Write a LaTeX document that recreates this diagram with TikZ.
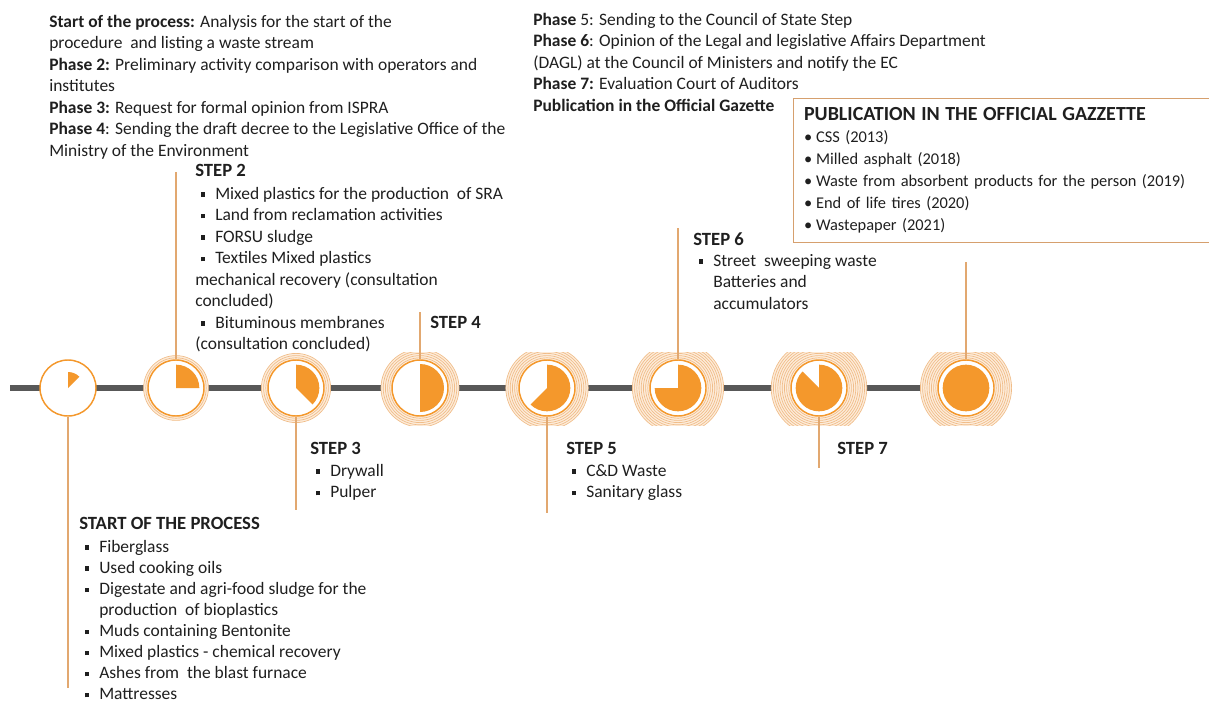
\documentclass[tikz,border=0pt]{standalone}
\usepackage{fontspec}
\setmainfont{Carlito}
\usetikzlibrary{positioning,backgrounds}

\definecolor{pieorange}{RGB}{244,152,44}
\definecolor{haloline}{RGB}{240,188,136}
\definecolor{halofill}{RGB}{253,236,218}
\definecolor{leadline}{RGB}{226,168,112}
\definecolor{boxline}{RGB}{214,160,110}
\definecolor{trackgray}{RGB}{88,88,88}

\newcommand{\sqitem}{\makebox[15pt][l]{\hspace{4pt}\raisebox{0.3ex}{\rule{3.4pt}{3.4pt}}}}
\newcommand{\dotitem}{\makebox[9pt][l]{\textbullet}}

\tikzset{
	every node/.style={inner sep=0pt, text=black!88},
	body/.style={font=\fontsize{13.1}{16.1}\selectfont, align=left, anchor=north west},
	head/.style={font=\bfseries\fontsize{14}{16}\selectfont, anchor=north west},
	stage/.style={circle, draw=pieorange, line width=1.1pt, fill=white, minimum size=42pt},
	lead/.style={draw=leadline, line width=0.8pt},
	track/.style={draw=trackgray, line width=5.2pt},
}

\begin{document}
\begin{tikzpicture}[x=0.75pt, y=-0.75pt]
	\useasboundingbox (0,0) rectangle (1209,706);

	% stages with their halos
	\foreach \i/\x/\f/\h/\rad in {1/68/45/0/12, 2/176/90/2/17.5, 3/296/135/3/17.5, 4/420/180/5/18, 5/547/225/6/17.5, 6/678/270/8/17.5, 7/819/315/9/17.5, 8/966/360/8/17.5} {
		\ifnum\h>0
			\begin{scope}
				\clip (\x-60,352) rectangle (\x+60,425);
				\fill[halofill] (\x,388) circle[radius={(28+2.2*\h)*0.75pt}];
				\foreach \k in {1,...,\h}
					\draw[haloline, line width=0.5pt] (\x,388) circle[radius={(28+2.2*\k)*0.75pt}];
			\end{scope}
		\fi
		\node[stage] (c\i) at (\x,388) {};
		\fill[pieorange] (c\i.center) -- ++(90:\rad pt) arc[start angle=90, end angle=90-\f, radius=\rad pt] -- cycle;
	}

	\coordinate (t0) at (10,388);
	\begin{scope}[on background layer]
		\draw[track] (t0) -- (c8.center);
	\end{scope}

	% leads to the labels
	\foreach \i/\x/\y in {1/68/688, 2/176/172, 3/296/510, 4/420/312, 5/547/513, 6/678/228, 7/819/468, 8/966/262} {
		\coordinate (e\i) at (\x,\y);
		\draw[lead] (c\i) -- (e\i);
	}

	% phases
	\node[body] (phasesA) at (49,15) {\textbf{Start of the process:} Analysis for the start of the\\
		procedure\ \ and listing a waste stream\\
		\textbf{Phase 2:} Preliminary activity comparison with operators and\\
		institutes\\
		\textbf{Phase 3:} Request for formal opinion from ISPRA\\
		\textbf{Phase 4}: Sending the draft decree to the Legislative Office of the\\
		Ministry of the Environment};
	\node[body] (phasesB) at (533,13) {\textbf{Phase} 5: Sending to the Council of State Step\\
		\textbf{Phase 6}: Opinion of the Legal and legislative Affairs Department\\
		(DAGL) at the Council of Ministers and notify the EC\\
		\textbf{Phase 7:} Evaluation Court of Auditors\\
		\textbf{Publication in the Official Gazette}};

	% gazette box
	\node[body, draw=boxline, line width=0.6pt, inner xsep=8pt, inner ysep=7pt, text width=298pt, font=\fontsize{12.3}{16.5}\selectfont] (gazette) at (793,98)
		{{\bfseries\fontsize{15}{16}\selectfont PUBLICATION IN THE OFFICIAL GAZZETTE}\\
		\dotitem CSS (2013)\\
		\dotitem Milled asphalt (2018)\\
		\dotitem Waste from absorbent products for the person (2019)\\
		\dotitem End of life tires (2020)\\
		\dotitem Wastepaper (2021)};

	% steps
	\node[head] (start) at (79,517) {START OF THE PROCESS};
	\node[body, font=\fontsize{13.1}{15.8}\selectfont] (startL) at (79,540) {\sqitem Fiberglass\\
		\sqitem Used cooking oils\\
		\sqitem Digestate and agri-food sludge for the\\
		\hspace*{15pt}production\ \ of bioplastics\\
		\sqitem Muds containing Bentonite\\
		\sqitem Mixed plastics - chemical recovery\\
		\sqitem Ashes from\ \ the blast furnace\\
		\sqitem Mattresses};

	\node[head] (step2) at (195,164) {STEP 2};
	\node[body] (step2L) at (195,187) {\sqitem Mixed plastics for the production\ \ of SRA\\
		\sqitem Land from reclamation activities\\
		\sqitem FORSU sludge\\
		\sqitem Textiles Mixed plastics\\
		mechanical recovery (consultation\\
		concluded)\\
		\sqitem Bituminous membranes\\
		(consultation concluded)};

	\node[head] (step3) at (310,442) {STEP 3};
	\node[body] (step3L) at (310,464) {\sqitem Drywall\\
		\sqitem Pulper};

	\node[head] (step4) at (430,316) {STEP 4};

	\node[head] (step5) at (566,442) {STEP 5};
	\node[body] (step5L) at (566,464) {\sqitem C\&D Waste\\
		\sqitem Sanitary glass};

	\node[head] (step6) at (693,232) {STEP 6};
	\node[body] (step6L) at (693,254) {\sqitem Street\ \ sweeping waste\\
		\hspace*{15pt}Batteries and\\
		\hspace*{15pt}accumulators};

	\node[head] (step7) at (837,442) {STEP 7};
\end{tikzpicture}
\end{document}
